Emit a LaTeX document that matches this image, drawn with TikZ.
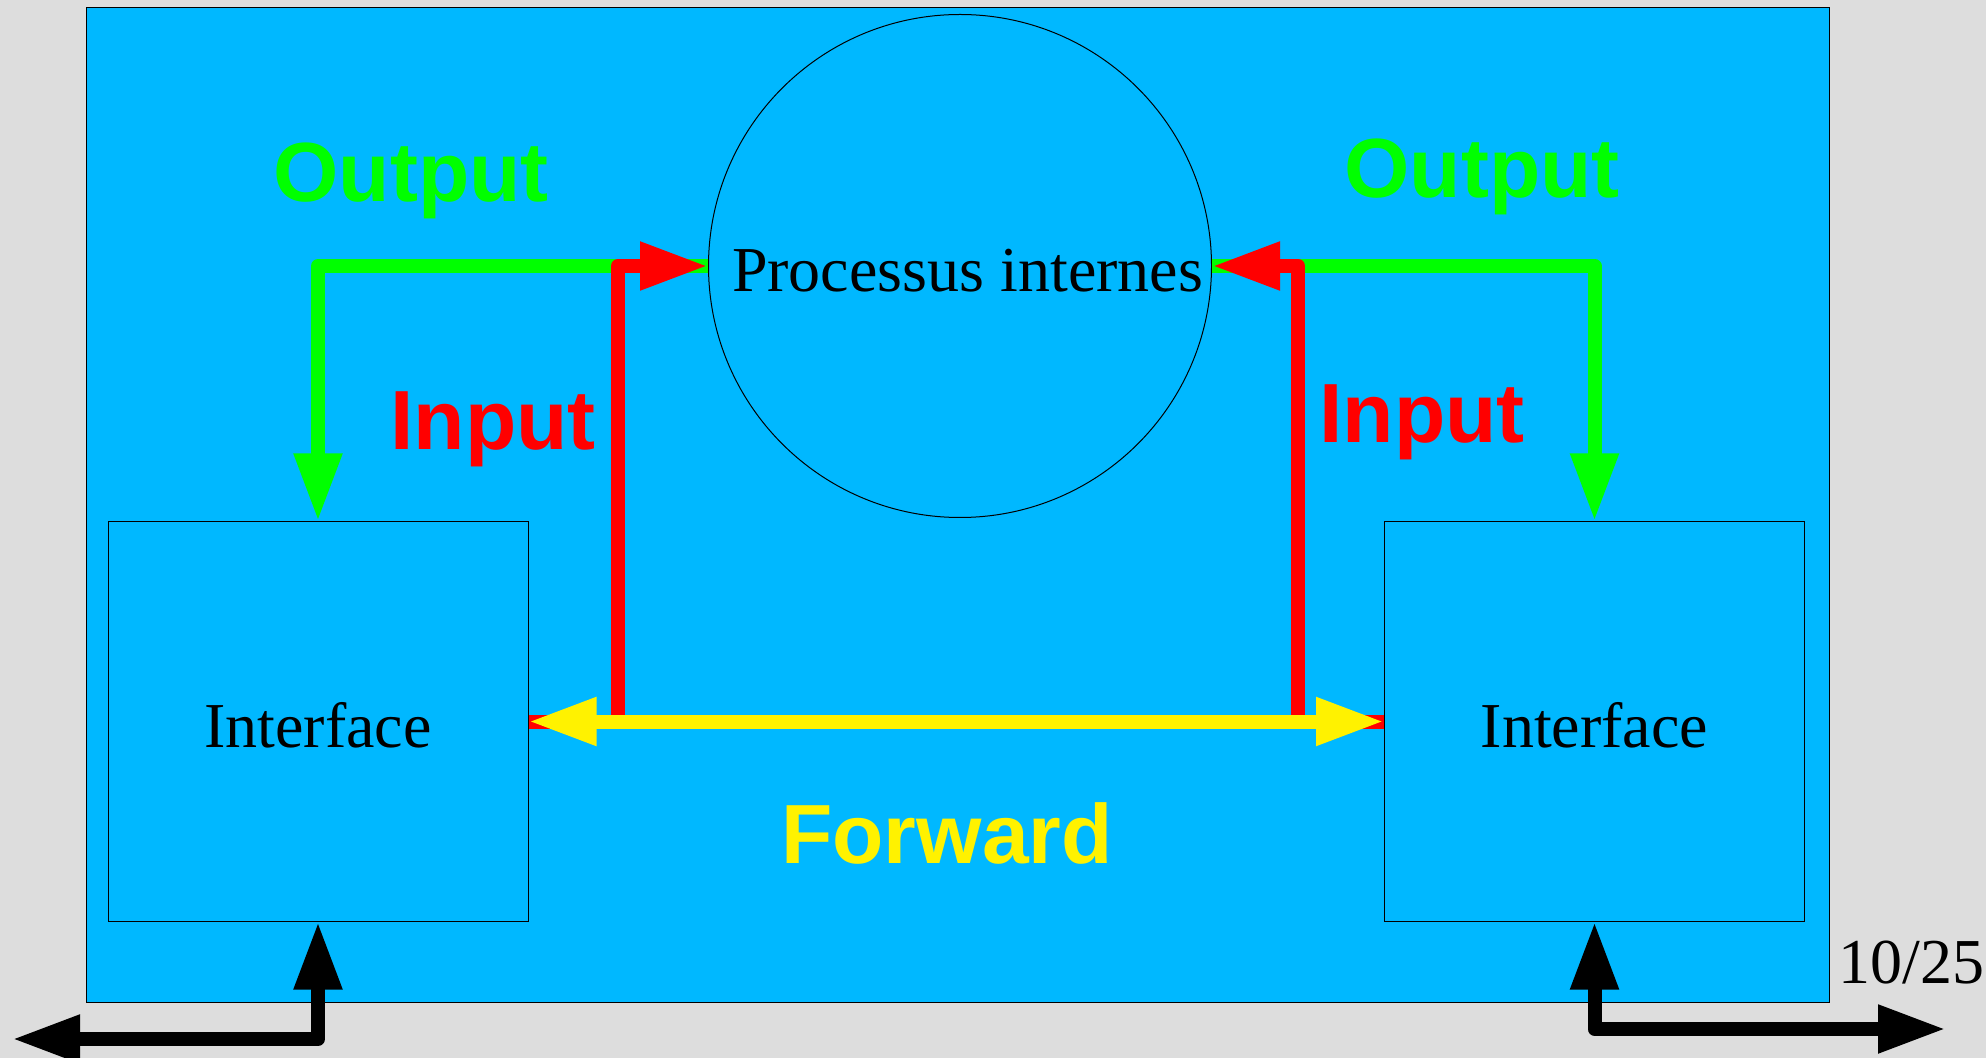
\documentclass[tikz,border=0pt]{standalone}
\usepackage{fontspec}
\setmainfont{Liberation Serif}
\newfontfamily\labelfont{Liberation Sans}
\usetikzlibrary{arrows.meta}
\definecolor{skyblue}{RGB}{0,184,255}
\definecolor{pagegrey}{RGB}{221,221,221}
\colorlet{outgreen}{green}
\colorlet{inred}{red}
\colorlet{fwdyellow}{yellow}
\tikzset{
  head/.tip={Triangle[length=34pt,width=22.5pt]},
  flow/.style={line width=7pt, line join=round, -head},
  twoway/.style={flow, head-head},
  tag/.style={font=\labelfont\bfseries\fontsize{42}{50}\selectfont, inner sep=0pt},
  plain/.style={font=\fontsize{32}{38}\selectfont},
  ifbox/.style={draw, line width=0.5pt, fill=skyblue, minimum width=210pt, minimum height=199.5pt, text height=26pt, plain}
}

\begin{document}
\begin{tikzpicture}[x=0.5pt,y=-0.5pt]
		\fill[pagegrey] (0,0) rectangle (1986,1058);
		\useasboundingbox (0,0) rectangle (1986,1058);
		\draw[fill=skyblue, line width=0.5pt] (86,8) rectangle (1829,1002);

		\node[circle, draw, line width=0.5pt, minimum size=251.5pt, inner sep=0pt, text height=26pt, plain] (proc) at (960,266) {\hspace*{7.6pt}Processus internes};
		\node[ifbox] (ifl) at (318,721.5) {Interface};
		\node[ifbox] (ifr) at (1594.5,721.5) {Interface};

		% output
		\draw[flow, outgreen] (proc.west) -| (ifl.north);
		\draw[flow, outgreen] (proc.east) -| (ifr.north);
		% input
		\coordinate (inl) at (618,721.5);
		\coordinate (inr) at (1298,721.5);
		\draw[flow, inred] (ifl.east) -- (inl) |- (proc.west);
		\draw[flow, inred] (ifr.west) -- (inr) |- (proc.east);
		% forward
		\draw[twoway, fwdyellow] (ifl.east) -- (ifr.west);
		% outside
		\coordinate (exl) at (12,1039);
		\coordinate (exr) at (1946,1029);
		\draw[twoway, black] (ifl.south) |- (exl);
		\draw[twoway, black] (ifr.south) |- (exr);

		\node[tag, outgreen] (outl) at (411,181) {Output};
		\node[tag, outgreen] (outr) at (1482,177) {Output};
		\node[tag, inred] (inpl) at (493,429) {Input};
		\node[tag, inred] (inpr) at (1422,422) {Input};
		\node[tag, fwdyellow] (fwd) at (947,833) {Forward};
		\node[plain, anchor=base east, inner sep=0pt] (page) at (1985,983) {10/25};
\end{tikzpicture}
\end{document}
